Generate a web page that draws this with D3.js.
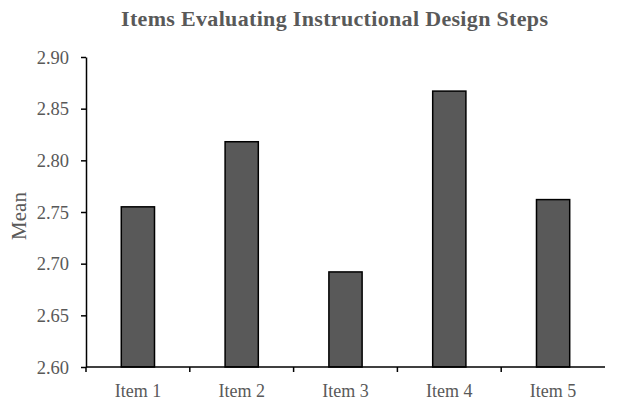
<!DOCTYPE html>
<html>
<head>
<meta charset="utf-8">
<script src="https://cdn.jsdelivr.net/npm/d3@7"></script>
<style>
  html, body { margin: 0; padding: 0; background: #fff; }
  svg { display: block; }
</style>
</head>
<body>
<script>
const categories = ["Item 1", "Item 2", "Item 3", "Item 4", "Item 5"];
const values = [2.755, 2.818, 2.692, 2.867, 2.762];
const yTicks = [2.60, 2.65, 2.70, 2.75, 2.80, 2.85, 2.90];
const title = "Items Evaluating Instructional Design Steps";
const yLabel = "Mean";

const W = 624, H = 400;
const margin = { left: 86, right: 19, top: 57, bottom: 33 };
const font = "'Liberation Serif', 'Times New Roman', serif";
const grey = "#595959";

const svg = d3.select("body").append("svg").attr("width", W).attr("height", H);

const x = d3.scaleBand().domain(categories)
  .range([margin.left, W - margin.right])
  .paddingInner(0.68).paddingOuter(0.34);
const xb = d3.scaleBand().domain(categories).range([margin.left, W - margin.right]);
const y = d3.scaleLinear().domain([2.60, 2.90]).range([H - margin.bottom, margin.top]);

// bars
svg.append("g").selectAll("rect").data(values).join("rect")
  .attr("x", (d, i) => x(categories[i]))
  .attr("width", x.bandwidth())
  .attr("y", d => y(d))
  .attr("height", d => y(2.60) - y(d))
  .attr("fill", grey)
  .attr("stroke", "#000")
  .attr("stroke-width", 1.5);

// y axis
const yAxis = svg.append("g")
  .attr("transform", `translate(${margin.left},0)`)
  .call(d3.axisLeft(y).tickValues(yTicks).tickFormat(d3.format(".2f")).tickSize(5).tickSizeOuter(0));
yAxis.select(".domain").attr("stroke", "#000").attr("stroke-width", 1.5);
yAxis.selectAll(".tick line").attr("stroke", "#000").attr("stroke-width", 1.5);
yAxis.selectAll("text").attr("font-family", font).attr("font-size", 18.5).attr("fill", grey).attr("x", -17).attr("dy", "0.34em");

// x axis
const xAxisG = svg.append("g").attr("transform", `translate(0,${H - margin.bottom})`);
xAxisG.append("line")
  .attr("x1", margin.left).attr("x2", W - margin.right)
  .attr("y1", 0).attr("y2", 0)
  .attr("stroke", "#000").attr("stroke-width", 1.5);
const bounds = categories.map(c => xb(c));
xAxisG.selectAll("line.tk").data(bounds).join("line").attr("class", "tk")
  .attr("x1", d => d).attr("x2", d => d)
  .attr("y1", 0).attr("y2", 5)
  .attr("stroke", "#000").attr("stroke-width", 1.5);
xAxisG.selectAll("text").data(categories).join("text")
  .attr("x", d => xb(d) + xb.bandwidth() / 2)
  .attr("y", 30)
  .attr("text-anchor", "middle")
  .attr("font-family", font).attr("font-size", 18).attr("fill", grey)
  .text(d => d);

// y label
svg.append("text")
  .attr("transform", `translate(26,216) rotate(-90)`)
  .attr("text-anchor", "middle")
  .attr("font-family", font).attr("font-size", 21).attr("fill", grey)
  .text(yLabel);

// title
svg.append("text")
  .attr("x", 121).attr("y", 26)
  .attr("textLength", 427).attr("lengthAdjust", "spacing")
  .attr("font-family", font).attr("font-size", 22).attr("font-weight", "bold").attr("fill", grey)
  .text(title);
</script>
</body>
</html>
